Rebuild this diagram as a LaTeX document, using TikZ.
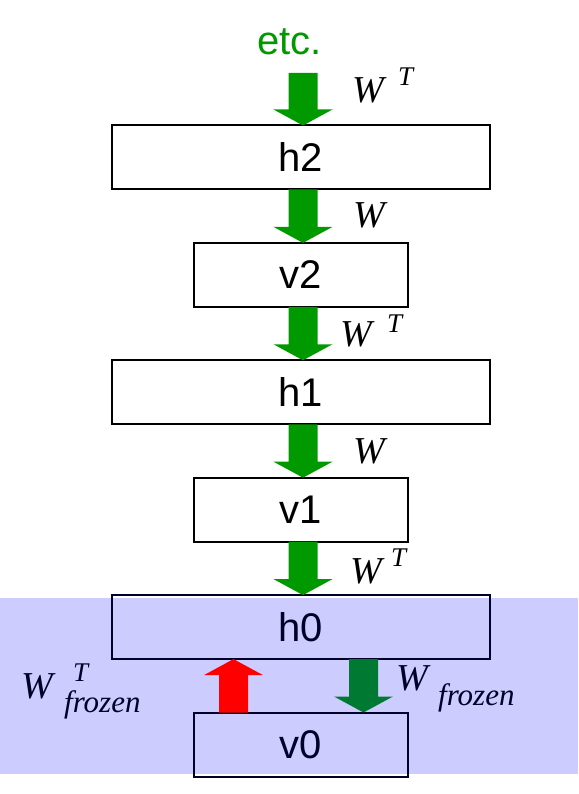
\documentclass[tikz,border=0pt]{standalone}
\usepackage{fontspec}
\setmainfont{Liberation Sans}
\newfontfamily\wfont{Liberation Serif}
\usetikzlibrary{positioning,calc}

\definecolor{stackgreen}{RGB}{0,153,0}
\definecolor{frozengreen}{RGB}{0,122,51}
\definecolor{frozenred}{RGB}{255,0,0}
\definecolor{frozenblue}{RGB}{204,204,255}
\definecolor{frozenink}{RGB}{0,0,40}

\tikzset{
  hidbox/.style={draw, line width=2pt, outer sep=0pt, minimum width=378pt, minimum height=64pt, font=\fontsize{40}{48}\selectfont},
  visbox/.style={hidbox, minimum width=214pt},
  wlabel/.style={inner sep=0pt, anchor=base west, font=\wfont\itshape\fontsize{38}{44}\selectfont},
  tlabel/.style={wlabel, font=\wfont\itshape\fontsize{27}{32}\selectfont},
  sublabel/.style={wlabel, font=\wfont\itshape\fontsize{31}{36}\selectfont}
}

% fat arrow: from, to, colour
\newcommand{\blockarrow}[3]{%
  \fill[#3] ($(#1)+(-14.5,0)$) -- ($(#2)!16pt!(#1)+(-14.5,0)$) -- ($(#2)!16pt!(#1)+(-29.5,0)$)
    -- (#2) -- ($(#2)!16pt!(#1)+(29.5,0)$) -- ($(#2)!16pt!(#1)+(14.5,0)$) -- ($(#1)+(14.5,0)$) -- cycle;}

\begin{document}
\begin{tikzpicture}[x=1pt, y=-1pt, node distance=53.4pt]
    \useasboundingbox (0,0) rectangle (578,794);
    \fill[frozenblue] (0,598) rectangle (578,774);

    \node[hidbox] (h2) at (301,157.5) {h2};
    \node[visbox] (v2) [below=of h2] {v2};
    \node[hidbox] (h1) [below=of v2] {h1};
    \node[visbox] (v1) [below=of h1] {v1};
    \node[hidbox, draw=frozenink, text=frozenink] (h0) [below=of v1] {h0};
    \node[visbox, draw=frozenink, text=frozenink] (v0) [below=of h0] {v0};

    \node[inner sep=0pt, anchor=base west, text=stackgreen, font=\fontsize{40}{48}\selectfont] (etc) at (257,55) {etc.};

    \coordinate (mid) at (303,0);
    \coordinate (up) at (233.5,0);
    \coordinate (dn) at (363.5,0);
    \coordinate (etcfoot) at (303,73);

    \blockarrow{etcfoot}{h2.north -| mid}{stackgreen}
    \blockarrow{h2.south -| mid}{v2.north -| mid}{stackgreen}
    \blockarrow{v2.south -| mid}{h1.north -| mid}{stackgreen}
    \blockarrow{h1.south -| mid}{v1.north -| mid}{stackgreen}
    \blockarrow{v1.south -| mid}{h0.north -| mid}{stackgreen}
    \blockarrow{v0.north -| up}{h0.south -| up}{frozenred}
    \blockarrow{h0.south -| dn}{v0.north -| dn}{frozengreen}

    % weight labels
    \node[wlabel] (w1) at (352,103) {W};
    \node[tlabel] (t1) at (398,86) {T};
    \node[wlabel] (w2) at (353,228) {W};
    \node[wlabel] (w3) at (340,346) {W};
    \node[tlabel] (t3) at (387,332) {T};
    \node[wlabel] (w4) at (353,463) {W};
    \node[wlabel] (w5) at (350,583) {W};
    \node[tlabel] (t5) at (391,566) {T};

    \node[wlabel, text=frozenink] (wf) at (396,690) {W};
    \node[sublabel, text=frozenink] (wfsub) at (438,705) {frozen};
    \node[wlabel, text=frozenink] (wl) at (21,698) {W};
    \node[tlabel, text=frozenink] (tl) at (73,681) {T};
    \node[sublabel, text=frozenink] (wlsub) at (64,712) {frozen};
\end{tikzpicture}
\end{document}
